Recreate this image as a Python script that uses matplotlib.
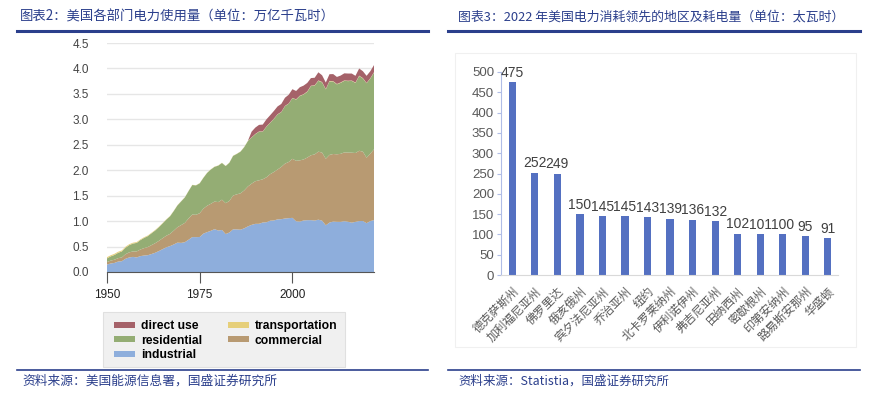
import matplotlib
matplotlib.use("Agg")
import matplotlib.pyplot as plt
from matplotlib.patches import Rectangle, Patch
from matplotlib.lines import Line2D

plt.rcParams['font.family'] = ['Liberation Sans', 'Noto Sans CJK SC', 'DejaVu Sans']

# 图表2 数据 (万亿千瓦时)
years = list(range(1950, 2023))
industrial = [0.146, 0.167, 0.178, 0.205, 0.212, 0.260, 0.286, 0.297, 0.286, 0.312,
              0.324, 0.330, 0.353, 0.378, 0.412, 0.449, 0.485, 0.509, 0.541, 0.577,
              0.572, 0.586, 0.634, 0.686, 0.685, 0.688, 0.754, 0.783, 0.809, 0.842,
              0.815, 0.826, 0.745, 0.776, 0.838, 0.837, 0.831, 0.858, 0.896, 0.926,
              0.946, 0.947, 0.973, 0.977, 1.008, 1.013, 1.034, 1.038, 1.051, 1.058,
              1.064, 0.997, 0.990, 1.012, 1.018, 1.019, 1.011, 1.028, 1.009, 0.917,
              0.971, 0.991, 0.986, 0.985, 0.998, 0.987, 0.970, 0.985, 1.001, 1.002,
              0.959, 1.000, 1.020]
commercial = [0.050, 0.057, 0.063, 0.067, 0.074, 0.090, 0.100, 0.107, 0.118, 0.130,
              0.145, 0.160, 0.175, 0.188, 0.200, 0.215, 0.228, 0.240, 0.272, 0.303,
              0.350, 0.380, 0.418, 0.443, 0.439, 0.467, 0.491, 0.519, 0.531, 0.542,
              0.558, 0.595, 0.607, 0.620, 0.664, 0.689, 0.715, 0.745, 0.785, 0.810,
              0.838, 0.855, 0.849, 0.884, 0.914, 0.952, 0.980, 1.027, 1.078, 1.104,
              1.160, 1.189, 1.204, 1.199, 1.230, 1.275, 1.300, 1.337, 1.337, 1.308,
              1.330, 1.328, 1.327, 1.337, 1.352, 1.360, 1.375, 1.353, 1.381, 1.362,
              1.287, 1.324, 1.391]
residential = [0.072, 0.083, 0.094, 0.105, 0.118, 0.128, 0.142, 0.155, 0.168, 0.185,
               0.201, 0.215, 0.233, 0.250, 0.270, 0.291, 0.317, 0.346, 0.385, 0.429,
               0.466, 0.500, 0.539, 0.580, 0.578, 0.588, 0.606, 0.645, 0.674, 0.683,
               0.717, 0.722, 0.730, 0.751, 0.780, 0.794, 0.819, 0.850, 0.893, 0.906,
               0.924, 0.955, 0.936, 0.995, 1.008, 1.043, 1.082, 1.076, 1.130, 1.145,
               1.192, 1.202, 1.265, 1.276, 1.292, 1.359, 1.352, 1.392, 1.380, 1.364,
               1.446, 1.423, 1.375, 1.395, 1.407, 1.404, 1.411, 1.378, 1.469, 1.440,
               1.464, 1.477, 1.509]
transportation = [0.023, 0.022, 0.022, 0.021, 0.020, 0.019, 0.018, 0.017, 0.016, 0.014,
                  0.013, 0.012, 0.011, 0.010, 0.009, 0.008, 0.007, 0.006, 0.005, 0.005,
                  0.004, 0.004, 0.004, 0.004, 0.004, 0.004, 0.004, 0.004, 0.004, 0.004,
                  0.004, 0.004, 0.004, 0.004, 0.004, 0.004, 0.004, 0.004, 0.004, 0.005,
                  0.005, 0.005, 0.005, 0.005, 0.005, 0.005, 0.005, 0.005, 0.005, 0.005,
                  0.005, 0.006, 0.006, 0.007, 0.007, 0.008, 0.007, 0.008, 0.008, 0.008,
                  0.008, 0.008, 0.007, 0.008, 0.008, 0.008, 0.007, 0.007, 0.008, 0.007,
                  0.006, 0.006, 0.007]
direct_use = [0] * 39 + [0.111, 0.125, 0.129, 0.134, 0.139, 0.146, 0.151, 0.153, 0.156,
                         0.161, 0.171, 0.171, 0.163, 0.166, 0.168, 0.168, 0.150, 0.147,
                         0.159, 0.132, 0.127, 0.132, 0.139, 0.138, 0.135, 0.139, 0.141,
                         0.137, 0.132, 0.140, 0.135, 0.139, 0.138, 0.139]

# 图表3 数据 (太瓦时)
states = ['德克萨斯州', '加利福尼亚州', '佛罗里达', '俄亥俄州', '宾夕法尼亚州', '乔治亚州',
          '纽约', '北卡罗莱纳州', '伊利诺伊州', '弗吉尼亚州', '田纳西州', '密歇根州',
          '印第安纳州', '路易斯安那州', '华盛顿']
usage = [475, 252, 249, 150, 145, 145, 143, 139, 136, 132, 102, 101, 100, 95, 91]

W, H = 873, 409
fig = plt.figure(figsize=(W / 100, H / 100), dpi=100)

navy = '#2b3f8c'
cjk = ['Noto Sans CJK SC', 'DejaVu Sans']

# 标题、分隔线、来源
fig.text(20 / W, 1 - 17 / H, '图表2：美国各部门电力使用量（单位：万亿千瓦时）', color=navy,
         fontsize=9.6, va='center', family=cjk)
fig.text(458 / W, 1 - 17 / H, '图表3：2022 年美国电力消耗领先的地区及耗电量（单位：太瓦时）',
         color=navy, fontsize=9.3, va='center', family=cjk)
fig.text(22 / W, 1 - 381 / H, '资料来源：美国能源信息署，国盛证券研究所', color=navy,
         fontsize=9.2, va='center', family=cjk)
fig.text(458 / W, 1 - 381 / H, '资料来源：Statistia，国盛证券研究所', color=navy,
         fontsize=9, va='center', family=cjk)
for x0, x1 in [(17, 428), (448, 860)]:
    for yy, lw in [(31, 2.2), (370, 1.2)]:
        fig.add_artist(Line2D([x0 / W, x1 / W], [1 - yy / H, 1 - yy / H],
                              color=navy, lw=lw))

# 左图：堆积面积图
ax1 = fig.add_axes([107 / W, 1 - 272 / H, 267 / W, 229 / H])
colors = ['#8eaedc', '#b89a72', '#94ad74', '#e6cf7a', '#a56269']
ax1.stackplot(years, industrial, commercial, residential, transportation, direct_use,
              colors=colors, linewidth=0)
ax1.set_xlim(1950, 2022)
ax1.set_ylim(0, 4.5)
ax1.set_yticks([0, 0.5, 1.0, 1.5, 2.0, 2.5, 3.0, 3.5, 4.0, 4.5])
ax1.set_yticklabels(['0.0', '0.5', '1.0', '1.5', '2.0', '2.5', '3.0', '3.5', '4.0', '4.5'])
ax1.set_xticks([1950, 1975, 2000])
ax1.grid(axis='y', color='#e6e6e6', lw=1)
ax1.set_axisbelow(True)
for s in ['top', 'right', 'left']:
    ax1.spines[s].set_visible(False)
ax1.spines['bottom'].set_color('#555555')
ax1.tick_params(axis='y', length=0, labelsize=8.5, labelcolor='#444444', pad=13)
ax1.tick_params(axis='x', length=8, color='#555555', labelsize=8.5, labelcolor='#222222',
                pad=4)

# 图例
fig.add_artist(Rectangle((103 / W, 1 - 367 / H), 242 / W, 55 / H, transform=fig.transFigure,
                         facecolor='#f0f0f0', edgecolor='#e0e0e0', lw=0.8))
names = ['direct use', 'residential', 'industrial', 'transportation', 'commercial']
order = [4, 2, 0, 3, 1]
handles = [Patch(facecolor=colors[i], edgecolor='none') for i in order]
fig.legend(handles, names, loc='upper left', bbox_to_anchor=(108 / W, 1 - 314 / H),
           ncol=2, frameon=False, handlelength=1.7, handleheight=0.4,
           handletextpad=0.5, columnspacing=2.2, labelspacing=0.22, borderpad=0,
           prop={'weight': 'bold', 'size': 8.7})

# 右图：柱状图
fig.add_artist(Rectangle((455 / W, 1 - 347 / H), 401 / W, 294 / H, transform=fig.transFigure,
                         facecolor='none', edgecolor='#f0f0f0', lw=0.8))
ax2 = fig.add_axes([501 / W, 1 - 275 / H, 337 / W, 203 / H])
xs = list(range(len(states)))
ax2.bar(xs, usage, width=0.32, color='#5470c1')
for x, v in zip(xs, usage):
    ax2.text(x, v + 6, str(v), ha='center', va='bottom', fontsize=10, color='#404040')
ax2.set_xlim(-0.5, len(states) - 0.55)
ax2.set_ylim(0, 500)
ax2.set_yticks(range(0, 501, 50))
ax2.set_xticks(xs)
ax2.set_xticklabels(states, rotation=45, ha='right', rotation_mode='anchor',
                    fontsize=8.5, color='#595959', family=cjk)
for s in ['top', 'right']:
    ax2.spines[s].set_visible(False)
ax2.spines['left'].set_color('#b0bde6')
ax2.spines['bottom'].set_color('#d9d9d9')
ax2.tick_params(axis='y', length=3, color='#b0bde6', labelsize=9.5, labelcolor='#595959',
                pad=2)
ax2.tick_params(axis='x', length=0, pad=7)

fig.savefig('out.png', dpi=100)
